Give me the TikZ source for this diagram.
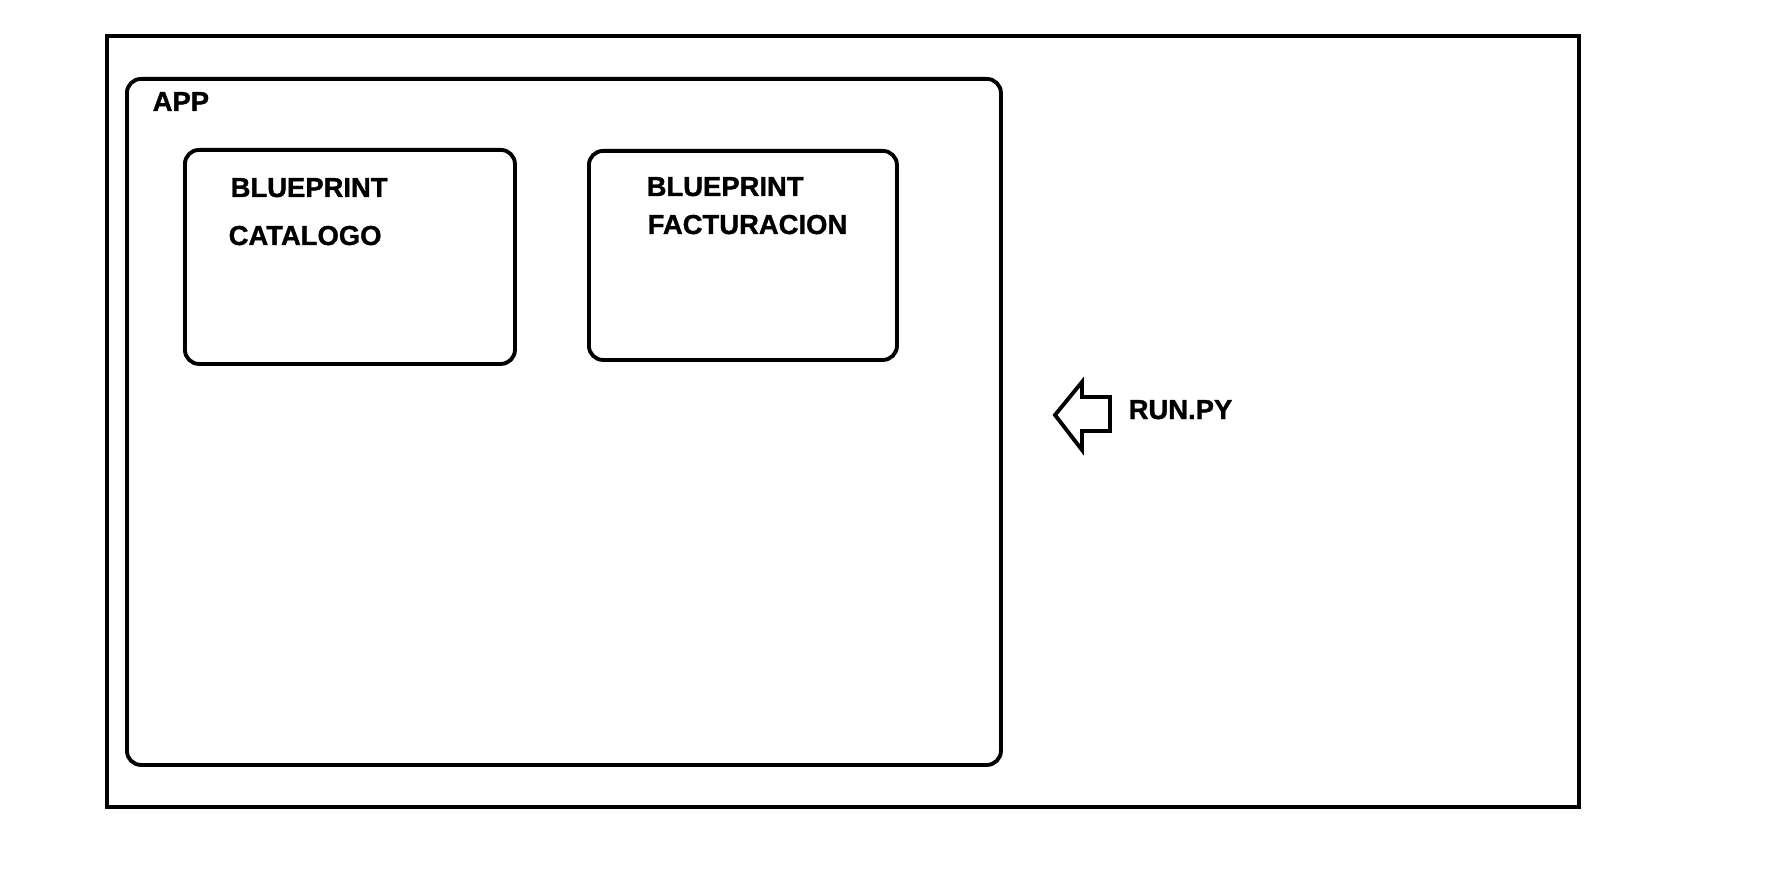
\documentclass[tikz,border=0pt]{standalone}
\usepackage{fontspec}
\setmainfont{Liberation Sans}
\newfontfamily\heavyfont[FakeBold=1.2]{Liberation Sans Bold}
\usepackage{tikz}
\usetikzlibrary{positioning}
\definecolor{ink}{HTML}{000000}

\begin{document}
\begin{tikzpicture}[
    frame/.style={rectangle,draw=ink,line width=1.25pt,anchor=north west,inner sep=0pt},
    box/.style={rectangle,draw=ink,line width=1.1pt,rounded corners=4pt,anchor=north west,inner sep=0pt},
    label/.style={anchor=base west,inner sep=0pt,text=ink,font=\heavyfont\fontsize{7.8}{9}\selectfont}
  ]
    \useasboundingbox (0,0) rectangle (17.70,8.77);

    \node[frame] (outer) at (1.05,8.43) [minimum width=14.72cm,minimum height=7.71cm] {};
    \node[box]   (app)   at (1.25,8.00) [minimum width=8.74cm,minimum height=6.86cm] {};
    \node[box]   (cat)   at (1.83,7.29) [minimum width=3.30cm,minimum height=2.14cm] {};
    \node[box]   (fact)  at (5.87,7.28) [minimum width=3.08cm,minimum height=2.09cm] {};

    \node[label] (applbl)   at (1.52,7.66) {APP};
    \node[label] (catlbl)   at (2.30,6.80) {BLUEPRINT};
    \node[label] (catname)  at (2.28,6.32) {CATALOGO};
    \node[label] (factlbl)  at (6.46,6.81) {BLUEPRINT};
    \node[label] (factname) at (6.47,6.43) {FACTURACION};
    \node[label] (runpy)    at (11.28,4.58) {RUN.PY};

    % hollow arrow pointing back at the app
    \draw[ink,line width=1.1pt,line join=miter]
      (10.55,4.62) -- (10.82,4.95) -- (10.82,4.80) -- (11.10,4.80)
      -- (11.10,4.46) -- (10.82,4.46) -- (10.82,4.27) -- cycle;
  \end{tikzpicture}
\end{document}
